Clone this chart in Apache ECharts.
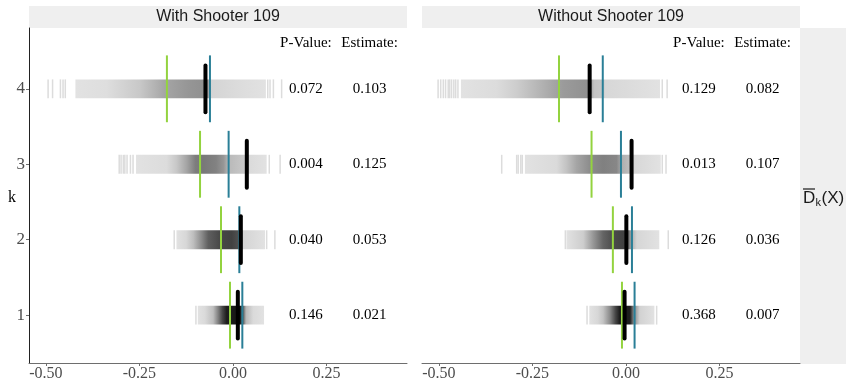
<!DOCTYPE html>
<html>
<head>
<meta charset="utf-8">
<script src="https://cdn.jsdelivr.net/npm/echarts@6/dist/echarts.min.js"></script>
<style>
  html, body { margin: 0; padding: 0; background: #ffffff; }
  #chart { width: 846px; height: 382px; }
</style>
</head>
<body>
<div id="chart"></div>
<script>
// Rows of the permutation plot (k = 1..4)
const kValues = [1, 2, 3, 4];
const xTicks = [-0.5, -0.25, 0, 0.25];
const panelTitles = ['With Shooter 109', 'Without Shooter 109'];

// ---- With Shooter 109 ----
const withNullMean = [-0.008, -0.032, -0.088, -0.1765];   // green marks
const withUpper    = [0.025, 0.017, -0.0116, -0.0615];    // teal marks
const withEstimate = [0.021, 0.053, 0.125, 0.103];
const withPValue   = [0.146, 0.040, 0.004, 0.072];
// permutation density as [x, grey level] stops, one list per k
const withBand = [
  [[-0.094,226],[-0.075,218],[-0.053,190],[-0.040,130],[-0.028,70],[-0.017,30],[0.019,20],[0.027,90],[0.035,185],[0.054,218],[0.083,226]],
  [[-0.151,226],[-0.125,215],[-0.106,190],[-0.084,140],[-0.066,95],[-0.035,72],[-0.004,65],[0.014,80],[0.022,150],[0.028,212],[0.0856,226]],
  [[-0.259,226],[-0.177,220],[-0.151,200],[-0.124,165],[-0.100,125],[-0.080,120],[-0.045,130],[-0.025,150],[-0.012,185],[0.030,200],[0.040,218],[0.090,226]],
  [[-0.421,226],[-0.338,222],[-0.249,200],[-0.182,165],[-0.120,150],[-0.079,144],[-0.068,150],[-0.060,212],[0.019,220],[0.088,226]]
];
const withTails = [
  [-0.099],
  [-0.157, 0.090, 0.112],
  [-0.304, -0.299, -0.293, -0.289, -0.283, -0.274, -0.267, 0.097, 0.126],
  [-0.494, -0.482, -0.461, -0.454, -0.448, 0.093, 0.099, 0.108, 0.130]
];

// ---- Without Shooter 109 ----
const withoutNullMean = [-0.0107, -0.035, -0.092, -0.179];
const withoutUpper    = [0.023, 0.016, -0.0134, -0.062];
const withoutEstimate = [0.007, 0.036, 0.107, 0.082];
const withoutPValue   = [0.368, 0.126, 0.013, 0.129];
const withoutBand = [
  [[-0.098,226],[-0.075,215],[-0.061,195],[-0.043,140],[-0.028,70],[-0.016,25],[0.011,30],[0.020,130],[0.037,210],[0.076,226]],
  [[-0.159,226],[-0.114,205],[-0.087,150],[-0.061,100],[-0.034,75],[-0.007,65],[0.006,110],[0.016,180],[0.029,214],[0.089,226]],
  [[-0.270,226],[-0.185,218],[-0.159,195],[-0.132,165],[-0.096,140],[-0.061,128],[-0.025,135],[-0.010,175],[0.010,190],[0.022,215],[0.093,226]],
  [[-0.441,226],[-0.346,220],[-0.292,205],[-0.230,180],[-0.168,155],[-0.105,145],[-0.094,165],[-0.085,195],[-0.062,200],[-0.055,215],[0.091,226]]
];
const withoutTails = [
  [-0.104, 0.082],
  [-0.162, 0.113],
  [-0.332, -0.292, -0.288, -0.281, -0.277, 0.097, 0.107],
  [-0.502, -0.495, -0.488, -0.482, -0.475, -0.471, -0.466, -0.460, -0.455, -0.449, 0.097, 0.110]
];

const X_MIN = -0.545, X_MAX = 0.465;
const Y_MIN = 0.366, Y_MAX = 4.806;
const PV_X = 0.195, EST_X = 0.365, HEAD_Y = 4.6;

const BAND_HALF = 0.125;
const LINE_HALF = 0.443;
const EST_HALF = 0.31;
const SERIF = 'Liberation Serif, "Times New Roman", serif';
const SANS = 'Liberation Sans, Arial, sans-serif';
const GREEN = '#93d33f';
const TEAL = '#2a7f97';

function grey(level) { return 'rgb(' + level + ',' + level + ',' + level + ')'; }

function bandSeries(gi, stopsByK) {
  return {
    type: 'custom', xAxisIndex: gi, yAxisIndex: gi, silent: true, z: 1,
    data: kValues.map((k, i) => [stopsByK[i][0][0], stopsByK[i][stopsByK[i].length - 1][0], k]),
    renderItem(params, api) {
      const stops = stopsByK[params.dataIndex];
      const x0 = api.value(0), x1 = api.value(1), k = api.value(2);
      const a = api.coord([x0, k + BAND_HALF]);
      const b = api.coord([x1, k - BAND_HALF]);
      return {
        type: 'rect',
        shape: { x: a[0], y: a[1], width: b[0] - a[0], height: b[1] - a[1] },
        style: {
          fill: {
            type: 'linear', x: 0, y: 0, x2: 1, y2: 0,
            colorStops: stops.map(s => ({ offset: (s[0] - x0) / (x1 - x0), color: grey(s[1]) }))
          }
        }
      };
    }
  };
}

function tailSeries(gi, tails) {
  const data = [];
  tails.forEach((xs, i) => xs.forEach(x => data.push([x, kValues[i]])));
  return {
    type: 'custom', xAxisIndex: gi, yAxisIndex: gi, silent: true, z: 1, data,
    renderItem(params, api) {
      const x = api.value(0), k = api.value(1);
      const a = api.coord([x, k + BAND_HALF]);
      const b = api.coord([x, k - BAND_HALF]);
      return { type: 'rect', shape: { x: a[0] - 0.75, y: a[1], width: 1.5, height: b[1] - a[1] }, style: { fill: '#dcdcdc' } };
    }
  };
}

function markSeries(gi, xs, half, color, width, cap, z) {
  return {
    type: 'custom', xAxisIndex: gi, yAxisIndex: gi, silent: true, z,
    data: xs.map((x, i) => [x, kValues[i]]),
    renderItem(params, api) {
      const x = api.value(0), k = api.value(1);
      const a = api.coord([x, k + half]);
      const b = api.coord([x, k - half]);
      return { type: 'line', shape: { x1: a[0], y1: a[1], x2: b[0], y2: b[1] }, style: { stroke: color, lineWidth: width, lineCap: cap } };
    }
  };
}

function textSeries(gi, points, texts) {
  return {
    type: 'custom', xAxisIndex: gi, yAxisIndex: gi, silent: true, z: 6,
    data: points,
    renderItem(params, api) {
      const p = api.coord([api.value(0), api.value(1)]);
      return {
        type: 'text', x: p[0], y: p[1],
        style: { text: texts[params.dataIndex], fill: '#000000', font: '15px ' + SERIF, align: 'center', verticalAlign: 'middle' }
      };
    }
  };
}

function panelSeries(gi, nullMean, upper, estimate, pvalue, band, tails) {
  const observed = nullMean.map((m, i) => m + estimate[i]);
  return [
    bandSeries(gi, band),
    tailSeries(gi, tails),
    markSeries(gi, nullMean, LINE_HALF, GREEN, 2, 'butt', 3),
    markSeries(gi, upper, LINE_HALF, TEAL, 2, 'butt', 3),
    markSeries(gi, observed, EST_HALF, '#000000', 4, 'round', 4),
    textSeries(gi, [[PV_X, HEAD_Y], [EST_X, HEAD_Y]], ['P-Value:', 'Estimate:']),
    textSeries(gi, kValues.map(k => [PV_X, k]), pvalue.map(v => v.toFixed(3))),
    textSeries(gi, kValues.map(k => [EST_X, k]), estimate.map(v => v.toFixed(3)))
  ];
}

const grids = [
  { left: 29, top: 28, width: 378, height: 336 },
  { left: 422, top: 28, width: 378, height: 336 }
];

const chart = echarts.init(document.getElementById('chart'), null, { renderer: 'canvas' });

chart.setOption({
  animation: false,
  backgroundColor: '#ffffff',
  grid: grids,
  xAxis: [0, 1].map(i => ({
    gridIndex: i, type: 'value', min: X_MIN, max: X_MAX,
    splitLine: { show: false },
    axisLine: { show: true, onZero: false, lineStyle: { color: '#6e6e6e', width: 1 } },
    axisTick: { show: true, length: 3, lineStyle: { color: '#6e6e6e' }, customValues: xTicks },
    axisLabel: { customValues: xTicks, formatter: v => v.toFixed(2), color: '#4d4d4d', fontFamily: SERIF, fontSize: 16, margin: 3 }
  })),
  yAxis: [0, 1].map(i => ({
    gridIndex: i, type: 'value', min: Y_MIN, max: Y_MAX,
    splitLine: { show: false },
    axisLine: { show: i === 0, onZero: false, lineStyle: { color: '#222222', width: 1 } },
    axisTick: { show: i === 0, length: 3, lineStyle: { color: '#6e6e6e' }, customValues: kValues },
    axisLabel: { show: i === 0, customValues: kValues, color: '#4d4d4d', fontFamily: SERIF, fontSize: 17, margin: 4 }
  })),
  series: [
    ...panelSeries(0, withNullMean, withUpper, withEstimate, withPValue, withBand, withTails),
    ...panelSeries(1, withoutNullMean, withoutUpper, withoutEstimate, withoutPValue, withoutBand, withoutTails)
  ],
  graphic: [
    // facet strips
    { type: 'rect', left: 29, top: 6, shape: { width: 378, height: 22 }, style: { fill: '#efefef' }, silent: true },
    { type: 'rect', left: 422, top: 6, shape: { width: 378, height: 22 }, style: { fill: '#efefef' }, silent: true },
    { type: 'text', x: 218, y: 17, style: { text: panelTitles[0], font: '16px ' + SANS, fill: '#1a1a1a', align: 'center', verticalAlign: 'middle' } },
    { type: 'text', x: 611, y: 17, style: { text: panelTitles[1], font: '16px ' + SANS, fill: '#1a1a1a', align: 'center', verticalAlign: 'middle' } },
    // right-hand row strip with D-bar_k(X)
    { type: 'rect', left: 800, top: 28, shape: { width: 46, height: 336 }, style: { fill: '#efefef' }, silent: true },
    { type: 'text', x: 803, y: 198, style: { text: 'D', font: '17px ' + SANS, fill: '#1a1a1a', align: 'left', verticalAlign: 'middle' } },
    { type: 'line', shape: { x1: 803, y1: 189, x2: 815, y2: 189 }, style: { stroke: '#1a1a1a', lineWidth: 1.2 } },
    { type: 'text', x: 815.5, y: 203, style: { text: 'k', font: '11px ' + SANS, fill: '#1a1a1a', align: 'left', verticalAlign: 'middle' } },
    { type: 'text', x: 821.5, y: 198, style: { text: '(X)', font: '17px ' + SANS, fill: '#1a1a1a', align: 'left', verticalAlign: 'middle' } },
    // y axis title
    { type: 'text', x: 12, y: 198, style: { text: 'k', font: '16px ' + SERIF, fill: '#000000', align: 'center', verticalAlign: 'middle' } }
  ]
});
</script>
</body>
</html>
